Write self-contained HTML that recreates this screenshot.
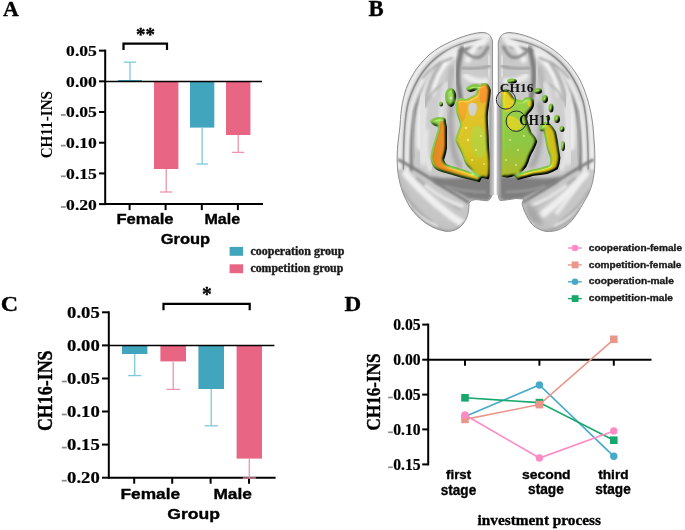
<!DOCTYPE html>
<html><head><meta charset="utf-8"><title>Figure</title>
<style>html,body{margin:0;padding:0;background:#fff;}body{width:685px;height:530px;overflow:hidden;font-family:"Liberation Sans",sans-serif;}svg{display:block;filter:blur(0.35px);}</style>
</head><body><svg width="685" height="530" viewBox="0 0 685 530"><g id="brain"><defs><filter id="gb0_6" x="-30%" y="-30%" width="160%" height="160%"><feGaussianBlur stdDeviation="0.6"/></filter><filter id="gb0_7" x="-30%" y="-30%" width="160%" height="160%"><feGaussianBlur stdDeviation="0.7"/></filter><filter id="gb0_9" x="-30%" y="-30%" width="160%" height="160%"><feGaussianBlur stdDeviation="0.9"/></filter><filter id="gb1_0" x="-30%" y="-30%" width="160%" height="160%"><feGaussianBlur stdDeviation="1.0"/></filter><filter id="gb1_2" x="-30%" y="-30%" width="160%" height="160%"><feGaussianBlur stdDeviation="1.2"/></filter><filter id="gb1_3" x="-30%" y="-30%" width="160%" height="160%"><feGaussianBlur stdDeviation="1.3"/></filter><filter id="gb1_4" x="-30%" y="-30%" width="160%" height="160%"><feGaussianBlur stdDeviation="1.4"/></filter><filter id="gb1_5" x="-30%" y="-30%" width="160%" height="160%"><feGaussianBlur stdDeviation="1.5"/></filter><filter id="gb1_6" x="-30%" y="-30%" width="160%" height="160%"><feGaussianBlur stdDeviation="1.6"/></filter><filter id="gb2_0" x="-30%" y="-30%" width="160%" height="160%"><feGaussianBlur stdDeviation="2.0"/></filter><filter id="puff" x="-10%" y="-10%" width="120%" height="120%" color-interpolation-filters="sRGB"><feGaussianBlur in="SourceAlpha" stdDeviation="1.8" result="b"/><feDiffuseLighting in="b" surfaceScale="3" diffuseConstant="1.3" lighting-color="#ffffff" result="diff"><feDistantLight azimuth="225" elevation="50"/></feDiffuseLighting><feComposite in="SourceGraphic" in2="diff" operator="arithmetic" k1="1" k2="0" k3="0" k4="0" result="lit"/><feSpecularLighting in="b" surfaceScale="3" specularConstant="0.3" specularExponent="28" lighting-color="#ffffff" result="spec"><fePointLight x="440" y="20" z="160"/></feSpecularLighting><feComposite in="spec" in2="SourceAlpha" operator="in" result="specIn"/><feComposite in="lit" in2="specIn" operator="arithmetic" k1="0" k2="1" k3="0.6" k4="0"/></filter><clipPath id="cL"><path d="M492.5,41 C491,35 488,32.5 482,32.4 C470,33 455,39 440,47 C425,56 414,70 408,84 C403,96 401,108 400,126 L397.6,146 C397,156 397,162 397.5,168 C398.5,182 403,196 410,207 C418,219 430,228 444,231 C452,232.5 460,229 464,222.6 C468,217 469,210 469,203 C472,199 476,199.5 480,200 L487,200.8 C490,200 492,197 492.6,192 Z"/></clipPath><clipPath id="cR"><path d="M498.3,42 C500,35 504,32.5 510,32.5 C522,33.5 536,38.5 550,47.5 C563,56 574,68 581,82 C587,95 591,110 593,126 L594.5,146 C595,156 595,162 594.5,170 C593.5,182 590,193 584.5,201 C580,209 574,220 566,226 C560,230 554,231.5 548.5,231.5 C542,231.5 536,228 532.4,224.7 C528,219 524,212 522.5,205 C522,204 522,202 524,199 L516,198.5 L506,200 L500,200.5 C498.6,199 498.3,196 498.3,192 Z"/></clipPath><radialGradient id="shL" cx="0.55" cy="0.35" r="0.75"><stop offset="0" stop-color="#d0d0d0"/><stop offset="0.8" stop-color="#c6c6c6"/><stop offset="1" stop-color="#b0b0b0"/></radialGradient></defs><path d="M492.5,41 C491,35 488,32.5 482,32.4 C470,33 455,39 440,47 C425,56 414,70 408,84 C403,96 401,108 400,126 L397.6,146 C397,156 397,162 397.5,168 C398.5,182 403,196 410,207 C418,219 430,228 444,231 C452,232.5 460,229 464,222.6 C468,217 469,210 469,203 C472,199 476,199.5 480,200 L487,200.8 C490,200 492,197 492.6,192 Z" fill="url(#shL)"/><path d="M498.3,42 C500,35 504,32.5 510,32.5 C522,33.5 536,38.5 550,47.5 C563,56 574,68 581,82 C587,95 591,110 593,126 L594.5,146 C595,156 595,162 594.5,170 C593.5,182 590,193 584.5,201 C580,209 574,220 566,226 C560,230 554,231.5 548.5,231.5 C542,231.5 536,228 532.4,224.7 C528,219 524,212 522.5,205 C522,204 522,202 524,199 L516,198.5 L506,200 L500,200.5 C498.6,199 498.3,196 498.3,192 Z" fill="url(#shL)"/><g clip-path="url(#cL)"><path d="M489,35.5 C475,34.5 455,40 440,49 C424,59 412,77 405,99 C401,115 399.5,140 399.5,168" stroke="#f0f0f0" stroke-width="4" fill="none" stroke-linecap="round" filter="url(#gb1_0)"/><path d="M487,39.5 C473,39 455,44.5 442,53.5 C427,63.5 415,80.5 408.5,101.5 C404.5,117.5 403.5,142 403.5,169" stroke="#8e8e8e" stroke-width="1.6" fill="none" stroke-linecap="round" filter="url(#gb0_7)"/><path d="M484,43 C471,43 455,48.5 444,56.5 C430,66.5 419,83.5 412,104.5 C408,120.5 407,145 407,170" stroke="#e9e9e9" stroke-width="4" fill="none" stroke-linecap="round" filter="url(#gb1_0)"/><path d="M480,47 C468,47 455,52 446,59.5 C433,69.5 423,86.5 416,107.5 C412,123.5 411,147 411.5,170" stroke="#767676" stroke-width="2.4" fill="none" stroke-linecap="round" filter="url(#gb0_9)"/><path d="M455,53 C443,61 433,73 427,89 C422,103 420,121 421,146" stroke="#ececec" stroke-width="9" fill="none" stroke-linecap="round" filter="url(#gb1_6)"/><path d="M446,62 C439,70 435,80 433,94" stroke="#f6f6f6" stroke-width="4" fill="none" stroke-linecap="round" filter="url(#gb1_4)"/><path d="M423,78 C430,68 440,62 452,58" stroke="#a6a6a6" stroke-width="2" fill="none" stroke-linecap="round" filter="url(#gb1_0)"/><path d="M428,100 C432,92 438,86 446,82" stroke="#b4b4b4" stroke-width="2" fill="none" stroke-linecap="round" filter="url(#gb1_0)"/><path d="M440,64 C432,76 427,90 425,106" stroke="#acacac" stroke-width="4" fill="none" stroke-linecap="round" filter="url(#gb1_6)"/><path d="M452,68 C450,80 448,90 447,100" stroke="#b2b2b2" stroke-width="5" fill="none" stroke-linecap="round" filter="url(#gb2_0)"/><path d="M462,48 C459,58 457,70 458,82 C459,90 460,96 461,102" stroke="#747474" stroke-width="4.5" fill="none" stroke-linecap="round" filter="url(#gb1_5)"/><path d="M452,104 C450,114 450,126 452,140 C453,150 455,160 460,166" stroke="#a0a0a0" stroke-width="5" fill="none" stroke-linecap="round" filter="url(#gb2_0)"/><path d="M486,39 C478,43 471,50 468,60" stroke="#f0f0f0" stroke-width="6" fill="none" stroke-linecap="round" filter="url(#gb1_4)"/><path d="M466,76 C471,80 478,82 486,81" stroke="#ececec" stroke-width="6" fill="none" stroke-linecap="round" filter="url(#gb1_4)"/><path d="M489,56 C490,64 490,70 489,76" stroke="#e6e6e6" stroke-width="3" fill="none" stroke-linecap="round" filter="url(#gb1_0)"/><path d="M463,50 C468,55 474,59 480,57 C484,55 486,51 488,47" stroke="#8a8a8a" stroke-width="3" fill="none" stroke-linecap="round" filter="url(#gb1_2)"/><path d="M462,68 C470,69 480,69 490,66" stroke="#9c9c9c" stroke-width="2.5" fill="none" stroke-linecap="round" filter="url(#gb1_2)"/><path d="M446,84 C444,96 442,108 440,118" stroke="#dedede" stroke-width="6" fill="none" stroke-linecap="round" filter="url(#gb1_5)"/><path d="M423,100 C421,120 421,140 424,160" stroke="#e2e2e2" stroke-width="12" fill="none" stroke-linecap="round" filter="url(#gb2_0)"/><path d="M414,110 C412,126 412,142 414,158" stroke="#adadad" stroke-width="2" fill="none" stroke-linecap="round" filter="url(#gb0_9)"/><path d="M426,132 C424,146 425,158 430,168" stroke="#e4e4e4" stroke-width="6" fill="none" stroke-linecap="round" filter="url(#gb1_5)"/><path d="M399,160 C414,168 430,178 445,188 C455,194 462,198 468,202" stroke="#7e7e7e" stroke-width="3" fill="none" stroke-linecap="round" filter="url(#gb1_2)"/><path d="M406,174 C418,188 432,201 446,212 C453,218 458,221 462,223" stroke="#f0f0f0" stroke-width="7" fill="none" stroke-linecap="round" filter="url(#gb1_6)"/><path d="M402,190 C410,204 420,214 432,222" stroke="#a6a6a6" stroke-width="2" fill="none" stroke-linecap="round" filter="url(#gb1_0)"/><path d="M417,178 C430,190 444,200 460,209" stroke="#a8a8a8" stroke-width="2" fill="none" stroke-linecap="round" filter="url(#gb1_0)"/><path d="M404,200 C412,212 422,220 436,226" stroke="#dedede" stroke-width="4" fill="none" stroke-linecap="round" filter="url(#gb1_3)"/><path d="M411,208 C419,220 431,228 445,231 C453,232.5 460,229 464,222.6" stroke="#9c9c9c" stroke-width="2" fill="none" stroke-linecap="round" filter="url(#gb1_0)"/><path d="M426,186 C436,194 448,202 462,206" stroke="#e4e4e4" stroke-width="4" fill="none" stroke-linecap="round" filter="url(#gb1_3)"/><path d="M430,176 C445,180 465,178 492,176 L492.6,192 C492,197 490,200 487,200.8 L480,200 C476,199.5 472,199 469,199 C460,194 448,188 436,184 Z" fill="#7e7e7e" filter="url(#gb1_5)"/><path d="M446,186 C458,190 470,192 486,192" stroke="#9a9a9a" stroke-width="2" fill="none" filter="url(#gb1_0)"/></g><g clip-path="url(#cR)"><g transform="translate(991.6,0) scale(-1,1)"><path d="M489,35.5 C475,34.5 455,40 440,49 C424,59 412,77 405,99 C401,115 399.5,140 399.5,168" stroke="#f0f0f0" stroke-width="4" fill="none" stroke-linecap="round" filter="url(#gb1_0)"/><path d="M487,39.5 C473,39 455,44.5 442,53.5 C427,63.5 415,80.5 408.5,101.5 C404.5,117.5 403.5,142 403.5,169" stroke="#8e8e8e" stroke-width="1.6" fill="none" stroke-linecap="round" filter="url(#gb0_7)"/><path d="M484,43 C471,43 455,48.5 444,56.5 C430,66.5 419,83.5 412,104.5 C408,120.5 407,145 407,170" stroke="#e9e9e9" stroke-width="4" fill="none" stroke-linecap="round" filter="url(#gb1_0)"/><path d="M480,47 C468,47 455,52 446,59.5 C433,69.5 423,86.5 416,107.5 C412,123.5 411,147 411.5,170" stroke="#767676" stroke-width="2.4" fill="none" stroke-linecap="round" filter="url(#gb0_9)"/><path d="M455,53 C443,61 433,73 427,89 C422,103 420,121 421,146" stroke="#ececec" stroke-width="9" fill="none" stroke-linecap="round" filter="url(#gb1_6)"/><path d="M446,62 C439,70 435,80 433,94" stroke="#f6f6f6" stroke-width="4" fill="none" stroke-linecap="round" filter="url(#gb1_4)"/><path d="M423,78 C430,68 440,62 452,58" stroke="#a6a6a6" stroke-width="2" fill="none" stroke-linecap="round" filter="url(#gb1_0)"/><path d="M428,100 C432,92 438,86 446,82" stroke="#b4b4b4" stroke-width="2" fill="none" stroke-linecap="round" filter="url(#gb1_0)"/><path d="M440,64 C432,76 427,90 425,106" stroke="#acacac" stroke-width="4" fill="none" stroke-linecap="round" filter="url(#gb1_6)"/><path d="M452,68 C450,80 448,90 447,100" stroke="#b2b2b2" stroke-width="5" fill="none" stroke-linecap="round" filter="url(#gb2_0)"/><path d="M462,48 C459,58 457,70 458,82 C459,90 460,96 461,102" stroke="#747474" stroke-width="4.5" fill="none" stroke-linecap="round" filter="url(#gb1_5)"/><path d="M452,104 C450,114 450,126 452,140 C453,150 455,160 460,166" stroke="#a0a0a0" stroke-width="5" fill="none" stroke-linecap="round" filter="url(#gb2_0)"/><path d="M486,39 C478,43 471,50 468,60" stroke="#f0f0f0" stroke-width="6" fill="none" stroke-linecap="round" filter="url(#gb1_4)"/><path d="M466,76 C471,80 478,82 486,81" stroke="#ececec" stroke-width="6" fill="none" stroke-linecap="round" filter="url(#gb1_4)"/><path d="M489,56 C490,64 490,70 489,76" stroke="#e6e6e6" stroke-width="3" fill="none" stroke-linecap="round" filter="url(#gb1_0)"/><path d="M463,50 C468,55 474,59 480,57 C484,55 486,51 488,47" stroke="#8a8a8a" stroke-width="3" fill="none" stroke-linecap="round" filter="url(#gb1_2)"/><path d="M462,68 C470,69 480,69 490,66" stroke="#9c9c9c" stroke-width="2.5" fill="none" stroke-linecap="round" filter="url(#gb1_2)"/><path d="M446,84 C444,96 442,108 440,118" stroke="#dedede" stroke-width="6" fill="none" stroke-linecap="round" filter="url(#gb1_5)"/><path d="M423,100 C421,120 421,140 424,160" stroke="#e2e2e2" stroke-width="12" fill="none" stroke-linecap="round" filter="url(#gb2_0)"/><path d="M414,110 C412,126 412,142 414,158" stroke="#adadad" stroke-width="2" fill="none" stroke-linecap="round" filter="url(#gb0_9)"/><path d="M426,132 C424,146 425,158 430,168" stroke="#e4e4e4" stroke-width="6" fill="none" stroke-linecap="round" filter="url(#gb1_5)"/><path d="M399,160 C414,168 430,178 445,188 C455,194 462,198 468,202" stroke="#7e7e7e" stroke-width="3" fill="none" stroke-linecap="round" filter="url(#gb1_2)"/><path d="M406,174 C418,188 432,201 446,212 C453,218 458,221 462,223" stroke="#f0f0f0" stroke-width="7" fill="none" stroke-linecap="round" filter="url(#gb1_6)"/><path d="M402,190 C410,204 420,214 432,222" stroke="#a6a6a6" stroke-width="2" fill="none" stroke-linecap="round" filter="url(#gb1_0)"/><path d="M417,178 C430,190 444,200 460,209" stroke="#a8a8a8" stroke-width="2" fill="none" stroke-linecap="round" filter="url(#gb1_0)"/><path d="M404,200 C412,212 422,220 436,226" stroke="#dedede" stroke-width="4" fill="none" stroke-linecap="round" filter="url(#gb1_3)"/><path d="M411,208 C419,220 431,228 445,231 C453,232.5 460,229 464,222.6" stroke="#9c9c9c" stroke-width="2" fill="none" stroke-linecap="round" filter="url(#gb1_0)"/><path d="M426,186 C436,194 448,202 462,206" stroke="#e4e4e4" stroke-width="4" fill="none" stroke-linecap="round" filter="url(#gb1_3)"/><path d="M430,176 C445,180 465,178 492,176 L492.6,192 C492,197 490,200 487,200.8 L480,200 C476,199.5 472,199 469,199 C460,194 448,188 436,184 Z" fill="#7e7e7e" filter="url(#gb1_5)"/><path d="M446,186 C458,190 470,192 486,192" stroke="#9a9a9a" stroke-width="2" fill="none" filter="url(#gb1_0)"/></g></g><g clip-path="url(#cR)"><path d="M526,200 C534,206 540,214 544,222 C540,226 534,226 530,222 C526,214 524,206 526,200 Z" fill="#a8a8a8" filter="url(#gb2_0)"/><path d="M578,184 C570,196 562,206 556,214" stroke="#eeeeee" stroke-width="4" fill="none" filter="url(#gb1_5)"/></g><path d="M492.5,41 C491,35 488,32.5 482,32.4 C470,33 455,39 440,47 C425,56 414,70 408,84 C403,96 401,108 400,126 L397.6,146 C397,156 397,162 397.5,168 C398.5,182 403,196 410,207 C418,219 430,228 444,231 C452,232.5 460,229 464,222.6 C468,217 469,210 469,203 C472,199 476,199.5 480,200 L487,200.8 C490,200 492,197 492.6,192 Z" fill="none" stroke="#909090" stroke-width="1"/><path d="M498.3,42 C500,35 504,32.5 510,32.5 C522,33.5 536,38.5 550,47.5 C563,56 574,68 581,82 C587,95 591,110 593,126 L594.5,146 C595,156 595,162 594.5,170 C593.5,182 590,193 584.5,201 C580,209 574,220 566,226 C560,230 554,231.5 548.5,231.5 C542,231.5 536,228 532.4,224.7 C528,219 524,212 522.5,205 C522,204 522,202 524,199 L516,198.5 L506,200 L500,200.5 C498.6,199 498.3,196 498.3,192 Z" fill="none" stroke="#909090" stroke-width="1"/><defs><linearGradient id="gOr" x1="0" y1="0" x2="1" y2="0.3"><stop offset="0" stop-color="#d8741a"/><stop offset="0.35" stop-color="#de8a1c"/><stop offset="0.7" stop-color="#e2a220"/><stop offset="1" stop-color="#dcbc20"/></linearGradient>
<linearGradient id="gYel" x1="0" y1="0" x2="0" y2="1"><stop offset="0" stop-color="#da8e1a"/><stop offset="0.3" stop-color="#d6b41a"/><stop offset="0.7" stop-color="#ccc01a"/><stop offset="1" stop-color="#c4b018"/></linearGradient>
<linearGradient id="gGr" x1="0" y1="0" x2="0" y2="1"><stop offset="0" stop-color="#90c83e"/><stop offset="0.6" stop-color="#88c23e"/><stop offset="1" stop-color="#acb826"/></linearGradient></defs><g filter="url(#puff)">
<g filter="url(#gb0_6)">
 <!-- green scattered patches -->
 <g fill="#84c444">
  <path d="M447,90 C450,86 455,88 456,94 C457,100 455,106 451,107 C447,106 445,101 445,96 C445,93 446,91 447,90 Z"/>
  <path d="M430,121 C433,117 440,116 445,118 C447,121 446,126 442,127 C437,127 432,126 430,121 Z"/>
  <path d="M466,88 C470,84 476,83 480,85 C480,89 476,91 471,92 C468,92 466,90 466,88 Z"/>
  <ellipse cx="512" cy="81" rx="5" ry="2.5"/>
  <ellipse cx="538" cy="91" rx="4" ry="3"/>
  <ellipse cx="545" cy="99" rx="3" ry="4"/>
  <ellipse cx="551" cy="108" rx="2.5" ry="4.5"/>
  <ellipse cx="557" cy="119" rx="3" ry="4"/>
  <ellipse cx="562" cy="129" rx="2.5" ry="3"/>
  <ellipse cx="528" cy="100" rx="4.5" ry="3"/>
  <ellipse cx="548" cy="118" rx="2" ry="3"/>
  <ellipse cx="542" cy="128" rx="2.5" ry="3.5"/>
  <ellipse cx="563" cy="146" rx="2" ry="5"/>
  <ellipse cx="441" cy="104" rx="2" ry="2.5"/>
 </g>
 <g fill="#c4c4c4">
  <ellipse cx="451" cy="98" rx="1.3" ry="1.6"/>
 </g>
 <!-- left outer strip -->
 <path d="M440,119 C443,119 446,122 446,127 L446,148 C445.5,153 444,157 443,160 C444,163 446,165 447.6,165.8 C452,167.5 458,169 462.7,170.3 C467,171.5 471,173 474.8,174.9 L481,177.5 L479,181 C470,179 462,177 455,174.9 C450,173 444,172 440,170.3 C436,169 433,166 432,161 C431,158 431.5,155 431.8,153.7 C433,149 434,145 435,142 C436.5,137 437.8,133 438.6,130 C439,126 439,122 440,119 Z" fill="url(#gOr)" stroke="#84cc48" stroke-width="2"/>
 <!-- left inner blob -->
 <path d="M482,84 C486,83 489,85 490,90 C490,100 487,108 487,117 C487,125 488,132 488,140 C488,150 490,158 490,165 C490,172 490,177 488,178.5 C482,178 476,175 470,168 C467,165 465,163 464,158 C462,152 458,146 456,140 C457,134 460,129 461,125 C460,120 458,116 457,112 C456,107 456,103 458,100 C461,98 464,99 466,100 C470,98 474,96 476,95 C477,92 479,87 482,84 Z" fill="url(#gYel)" stroke="#8acc48" stroke-width="1.6"/>
 <path d="M481,86 C486,85 488,89 488,95 C487,101 484,104 481,103 C479,98 479,91 481,86 Z" fill="#e4861c"/>
 <path d="M459,103 C462,101 465,102 467,104 C467,110 466,118 463,122 C460,117 458,110 459,103 Z" fill="#e39a1e"/>
 <path d="M474,126 C481,124 486,132 487,142 C487,152 484,158 478,158 C472,152 470,144 471,134 Z" fill="#b4c832"/>
 <path d="M468.5,105 C471,102 475,102 476.5,105 C477.5,109 476,114 473,116.5 C470,116 468.5,112 468.5,109 Z" fill="#c2c2c2"/>
 <!-- right inner blob -->
 <path d="M502,91 C505,88 510,92 514,99 C518,101 524,101 528,100 L533,100 C534,105 533,108 531,110 C528,113 526,115 526,117 C527,122 529,128 531,133 C534,136 536,139 536.5,141.5 C535.5,145 534,148 533,150 C531,153 530,155 529,158 C528,162 527,164 526,166 C524,169 522,171 520,173 C516,175 512,176.5 507.5,177 L501.5,176 C501,165 501,150 501,135 C501,120 501,105 502,91 Z" fill="url(#gGr)" stroke="#8ccf4a" stroke-width="1.4"/>
 <path d="M502,92 C506,89 511,93 513,100 C514,107 511,111 506,112 C503,107 502,99 502,92 Z" fill="#d6c41a"/>
 <path d="M507,116 C513,115 520,119 522,126 C520,131 513,132 508,129 Z" fill="#cccc20"/>
 <path d="M527,101 C530,100 533,102 532,106 C530,108 527,107 527,101 Z" fill="#cfc81e"/>
 <!-- right outer strip -->
 <path d="M543.8,122.8 C547,122 552,126 555,132 C557,140 558,148 559.4,158 C559,163 558,166 557,168.5 C553,171 549,172.5 547,173 C541,174 536,174.5 532.4,175 C527,176.5 522,178 518,179 L516,176.5 C520,174 526,172 532,170.5 C538,169.5 544,168 550,166 C552,162 551,156 549,152 C547,146 546,140 545,134 C544,130 543.5,126 543.8,122.8 Z" fill="#ccbc18" stroke="#84c444" stroke-width="2"/>
</g>
<g fill="#f4f0a0" opacity="0.7" filter="url(#gb0_6)">
 <circle cx="468" cy="140" r="1.2"/><circle cx="476" cy="150" r="1"/><circle cx="481" cy="136" r="1"/><circle cx="472" cy="160" r="1"/>
 <circle cx="466" cy="128" r="1.2"/><circle cx="484" cy="164" r="1"/>
 <circle cx="510" cy="140" r="1.1"/><circle cx="518" cy="150" r="1"/><circle cx="524" cy="136" r="1"/><circle cx="506" cy="160" r="1"/><circle cx="516" cy="165" r="1"/>
</g>
</g><defs><linearGradient id="gMed" x1="0" y1="0" x2="1" y2="0"><stop offset="0" stop-color="#9a9a9a"/><stop offset="0.35" stop-color="#d0d0d0"/><stop offset="0.45" stop-color="#ffffff"/><stop offset="0.55" stop-color="#ffffff"/><stop offset="0.65" stop-color="#bdbdbd"/><stop offset="1" stop-color="#8a8a8a"/></linearGradient><linearGradient id="gMedV" x1="0" y1="0" x2="0" y2="1"><stop offset="0" stop-color="#fff" stop-opacity="1"/><stop offset="0.25" stop-color="#fff" stop-opacity="0"/><stop offset="1" stop-color="#fff" stop-opacity="0"/></linearGradient></defs><defs><mask id="mMed"><rect x="480" y="0" width="40" height="240" fill="url(#gMedM)"/></mask><linearGradient id="gMedM" gradientUnits="userSpaceOnUse" x1="0" y1="92" x2="0" y2="108"><stop offset="0" stop-color="#000"/><stop offset="1" stop-color="#fff"/></linearGradient></defs><g mask="url(#mMed)"><path d="M489.5,92 L501.5,92 L501.5,195 L489.5,195 Z" fill="url(#gMed)" filter="url(#gb0_6)"/></g><line x1="495.3" y1="40" x2="495.3" y2="200" stroke="#ffffff" stroke-width="1.4"/><circle cx="505.9" cy="99.6" r="9.6" fill="none" stroke="#2a2a2a" stroke-width="1"/><circle cx="516.3" cy="121.2" r="10.2" fill="none" stroke="#2a2a2a" stroke-width="1"/></g><line x1="105.2" y1="49.65" x2="105.2" y2="205.1" stroke="#000" stroke-width="2.0" stroke-linecap="butt"/><line x1="99" y1="50.65" x2="105.2" y2="50.65" stroke="#000" stroke-width="2.0" stroke-linecap="butt"/><line x1="99" y1="81.34" x2="105.2" y2="81.34" stroke="#000" stroke-width="2.0" stroke-linecap="butt"/><line x1="99" y1="112.03" x2="105.2" y2="112.03" stroke="#000" stroke-width="2.0" stroke-linecap="butt"/><line x1="99" y1="142.72" x2="105.2" y2="142.72" stroke="#000" stroke-width="2.0" stroke-linecap="butt"/><line x1="99" y1="173.41" x2="105.2" y2="173.41" stroke="#000" stroke-width="2.0" stroke-linecap="butt"/><line x1="99" y1="204.1" x2="105.2" y2="204.1" stroke="#000" stroke-width="2.0" stroke-linecap="butt"/><line x1="105.2" y1="204.1" x2="263" y2="204.1" stroke="#000" stroke-width="2.0" stroke-linecap="butt"/><line x1="129.6" y1="204.1" x2="129.6" y2="210.1" stroke="#000" stroke-width="2.0" stroke-linecap="butt"/><line x1="165.6" y1="204.1" x2="165.6" y2="210.1" stroke="#000" stroke-width="2.0" stroke-linecap="butt"/><line x1="201.8" y1="204.1" x2="201.8" y2="210.1" stroke="#000" stroke-width="2.0" stroke-linecap="butt"/><line x1="237.9" y1="204.1" x2="237.9" y2="210.1" stroke="#000" stroke-width="2.0" stroke-linecap="butt"/><rect x="118.00" y="80.00" width="24.00" height="1.60" fill="#42A5BE"/><line x1="130.0" y1="80.0" x2="130.0" y2="62.2" stroke="#7DC8DC" stroke-width="1.3" stroke-linecap="butt"/><line x1="124.0" y1="62.2" x2="136.0" y2="62.2" stroke="#7DC8DC" stroke-width="1.3" stroke-linecap="butt"/><rect x="154.00" y="81.60" width="24.40" height="87.40" fill="#E96584"/><line x1="166.2" y1="169" x2="166.2" y2="192" stroke="#F094AA" stroke-width="1.3" stroke-linecap="butt"/><line x1="160.0" y1="192" x2="172.39999999999998" y2="192" stroke="#F094AA" stroke-width="1.3" stroke-linecap="butt"/><rect x="190.00" y="81.60" width="24.30" height="46.00" fill="#42A5BE"/><line x1="202.15" y1="127.6" x2="202.15" y2="164" stroke="#7DC8DC" stroke-width="1.3" stroke-linecap="butt"/><line x1="196.35" y1="164" x2="207.95000000000002" y2="164" stroke="#7DC8DC" stroke-width="1.3" stroke-linecap="butt"/><rect x="226.00" y="81.60" width="24.40" height="53.40" fill="#E96584"/><line x1="238.2" y1="135" x2="238.2" y2="152.4" stroke="#F094AA" stroke-width="1.3" stroke-linecap="butt"/><line x1="232.2" y1="152.4" x2="244.2" y2="152.4" stroke="#F094AA" stroke-width="1.3" stroke-linecap="butt"/><line x1="105.2" y1="81.6" x2="262" y2="81.6" stroke="#000" stroke-width="1.5" stroke-linecap="butt"/><path d="M123.5,49.9 L123.5,43.7 L167,43.7 L167,49.9" stroke="#000" stroke-width="2.2" fill="none" /><rect x="60.90" y="114.08" width="4.90" height="1.70" fill="#8a8a8a"/><rect x="60.90" y="144.77" width="4.90" height="1.70" fill="#8a8a8a"/><rect x="60.90" y="175.46" width="4.90" height="1.70" fill="#8a8a8a"/><rect x="60.90" y="206.15" width="4.90" height="1.70" fill="#8a8a8a"/><rect x="229.60" y="246.90" width="13.50" height="8.90" fill="#42A5BE"/><rect x="229.60" y="264.30" width="13.50" height="8.90" fill="#E96584"/><line x1="108.8" y1="311.3" x2="108.8" y2="478.7" stroke="#000" stroke-width="2.0" stroke-linecap="butt"/><line x1="102" y1="312.3" x2="108.8" y2="312.3" stroke="#000" stroke-width="2.0" stroke-linecap="butt"/><line x1="102" y1="345.4" x2="108.8" y2="345.4" stroke="#000" stroke-width="2.0" stroke-linecap="butt"/><line x1="102" y1="378.5" x2="108.8" y2="378.5" stroke="#000" stroke-width="2.0" stroke-linecap="butt"/><line x1="102" y1="411.5" x2="108.8" y2="411.5" stroke="#000" stroke-width="2.0" stroke-linecap="butt"/><line x1="102" y1="444.6" x2="108.8" y2="444.6" stroke="#000" stroke-width="2.0" stroke-linecap="butt"/><line x1="102" y1="477.7" x2="108.8" y2="477.7" stroke="#000" stroke-width="2.0" stroke-linecap="butt"/><line x1="108.8" y1="477.7" x2="275.6" y2="477.7" stroke="#000" stroke-width="2.0" stroke-linecap="butt"/><line x1="134.2" y1="477.7" x2="134.2" y2="483.7" stroke="#000" stroke-width="2.0" stroke-linecap="butt"/><line x1="172.2" y1="477.7" x2="172.2" y2="483.7" stroke="#000" stroke-width="2.0" stroke-linecap="butt"/><line x1="210.6" y1="477.7" x2="210.6" y2="483.7" stroke="#000" stroke-width="2.0" stroke-linecap="butt"/><line x1="249.0" y1="477.7" x2="249.0" y2="483.7" stroke="#000" stroke-width="2.0" stroke-linecap="butt"/><rect x="122.00" y="345.40" width="25.40" height="8.60" fill="#42A5BE"/><line x1="134.7" y1="354" x2="134.7" y2="375.6" stroke="#7DC8DC" stroke-width="1.3" stroke-linecap="butt"/><line x1="128.2" y1="375.6" x2="141.2" y2="375.6" stroke="#7DC8DC" stroke-width="1.3" stroke-linecap="butt"/><rect x="160.40" y="345.40" width="25.60" height="16.00" fill="#E96584"/><line x1="173.2" y1="361.4" x2="173.2" y2="389.4" stroke="#F094AA" stroke-width="1.3" stroke-linecap="butt"/><line x1="166.39999999999998" y1="389.4" x2="180.0" y2="389.4" stroke="#F094AA" stroke-width="1.3" stroke-linecap="butt"/><rect x="198.40" y="345.40" width="25.60" height="43.60" fill="#42A5BE"/><line x1="211.2" y1="389" x2="211.2" y2="425.8" stroke="#7DC8DC" stroke-width="1.3" stroke-linecap="butt"/><line x1="204.6" y1="425.8" x2="217.79999999999998" y2="425.8" stroke="#7DC8DC" stroke-width="1.3" stroke-linecap="butt"/><rect x="236.60" y="345.40" width="25.40" height="113.20" fill="#E96584"/><line x1="249.3" y1="458.6" x2="249.3" y2="478" stroke="#F094AA" stroke-width="1.3" stroke-linecap="butt"/><line x1="242.8" y1="478" x2="255.8" y2="478" stroke="#F094AA" stroke-width="1.3" stroke-linecap="butt"/><line x1="108.8" y1="345.4" x2="274.4" y2="345.4" stroke="#000" stroke-width="1.5" stroke-linecap="butt"/><path d="M163.5,310.3 L163.5,303.8 L249.7,303.8 L249.7,310.3" stroke="#000" stroke-width="2.2" fill="none" /><rect x="61.80" y="380.65" width="5.00" height="1.70" fill="#8a8a8a"/><rect x="61.80" y="413.65" width="5.00" height="1.70" fill="#8a8a8a"/><rect x="61.80" y="446.75" width="5.00" height="1.70" fill="#8a8a8a"/><rect x="61.80" y="479.85" width="5.00" height="1.70" fill="#8a8a8a"/><line x1="428.2" y1="323.6" x2="428.2" y2="465.4" stroke="#000" stroke-width="2.0" stroke-linecap="butt"/><line x1="422.2" y1="324.6" x2="428.2" y2="324.6" stroke="#000" stroke-width="2.0" stroke-linecap="butt"/><line x1="422.2" y1="359.7" x2="428.2" y2="359.7" stroke="#000" stroke-width="2.0" stroke-linecap="butt"/><line x1="422.2" y1="394.6" x2="428.2" y2="394.6" stroke="#000" stroke-width="2.0" stroke-linecap="butt"/><line x1="422.2" y1="429.4" x2="428.2" y2="429.4" stroke="#000" stroke-width="2.0" stroke-linecap="butt"/><line x1="422.2" y1="464.4" x2="428.2" y2="464.4" stroke="#000" stroke-width="2.0" stroke-linecap="butt"/><line x1="428.2" y1="359.7" x2="651.5" y2="359.7" stroke="#000" stroke-width="2.0" stroke-linecap="butt"/><line x1="465.0" y1="359.7" x2="465.0" y2="365.7" stroke="#000" stroke-width="2.0" stroke-linecap="butt"/><line x1="539.4" y1="359.7" x2="539.4" y2="365.7" stroke="#000" stroke-width="2.0" stroke-linecap="butt"/><line x1="613.8" y1="359.7" x2="613.8" y2="365.7" stroke="#000" stroke-width="2.0" stroke-linecap="butt"/><rect x="388.20" y="396.65" width="4.60" height="1.70" fill="#8a8a8a"/><rect x="388.20" y="431.45" width="4.60" height="1.70" fill="#8a8a8a"/><rect x="388.20" y="466.45" width="4.60" height="1.70" fill="#8a8a8a"/><polyline points="465.0,416.5 539.4,385.0 613.8,456.3" fill="none" stroke="#46A9C8" stroke-width="1.6"/><polyline points="465.0,397.8 539.4,402.6 613.8,440.2" fill="none" stroke="#17A86B" stroke-width="1.6"/><polyline points="465.0,419.4 539.4,404.6 613.8,339.3" fill="none" stroke="#E8978A" stroke-width="1.6"/><polyline points="465.0,415.0 539.4,458.0 613.8,430.9" fill="none" stroke="#FF8AC6" stroke-width="1.6"/><circle cx="465.0" cy="416.5" r="3.7" fill="#46A9C8"/><circle cx="539.4" cy="385.0" r="3.7" fill="#46A9C8"/><circle cx="613.8" cy="456.3" r="3.7" fill="#46A9C8"/><rect x="461.20" y="394.00" width="7.60" height="7.60" fill="#17A86B"/><rect x="535.60" y="398.80" width="7.60" height="7.60" fill="#17A86B"/><rect x="610.00" y="436.40" width="7.60" height="7.60" fill="#17A86B"/><rect x="461.20" y="415.60" width="7.60" height="7.60" fill="#E8978A"/><rect x="535.60" y="400.80" width="7.60" height="7.60" fill="#E8978A"/><rect x="610.00" y="335.50" width="7.60" height="7.60" fill="#E8978A"/><circle cx="465.0" cy="415.0" r="3.7" fill="#FF8AC6"/><circle cx="539.4" cy="458.0" r="3.7" fill="#FF8AC6"/><circle cx="613.8" cy="430.9" r="3.7" fill="#FF8AC6"/><line x1="567.9" y1="248.0" x2="581.8" y2="248.0" stroke="#FF8AC6" stroke-width="1.4" stroke-linecap="butt"/><circle cx="575" cy="248.0" r="3.3" fill="#FF8AC6"/><line x1="567.9" y1="264.9" x2="581.8" y2="264.9" stroke="#E8978A" stroke-width="1.4" stroke-linecap="butt"/><rect x="571.70" y="261.50" width="6.80" height="6.80" fill="#E8978A"/><line x1="567.9" y1="281.8" x2="581.8" y2="281.8" stroke="#46A9C8" stroke-width="1.4" stroke-linecap="butt"/><circle cx="575" cy="281.8" r="3.3" fill="#46A9C8"/><line x1="567.9" y1="298.6" x2="581.8" y2="298.6" stroke="#17A86B" stroke-width="1.4" stroke-linecap="butt"/><rect x="571.70" y="295.20" width="6.80" height="6.80" fill="#17A86B"/><text transform="translate(2.98,15.90) scale(0.9949,1)" font-family="Liberation Serif" font-weight="bold" font-size="21.970" fill="#000" stroke="#000" stroke-width="0.35" stroke-linejoin="round">A</text><text transform="translate(368.45,16.10) scale(0.9921,1)" font-family="Liberation Serif" font-weight="bold" font-size="22.923" fill="#000" stroke="#000" stroke-width="0.35" stroke-linejoin="round">B</text><text transform="translate(0.80,310.79) scale(1.1314,1)" font-family="Liberation Serif" font-weight="bold" font-size="21.212" fill="#000" stroke="#000" stroke-width="0.35" stroke-linejoin="round">C</text><text transform="translate(344.54,311.40) scale(1.0870,1)" font-family="Liberation Serif" font-weight="bold" font-size="21.231" fill="#000" stroke="#000" stroke-width="0.35" stroke-linejoin="round">D</text><text transform="translate(136.04,41.47) scale(0.9856,1)" font-family="Liberation Serif" font-weight="bold" font-size="19.189" fill="#000" stroke="#000" stroke-width="0.35" stroke-linejoin="round">**</text><text transform="translate(66.10,56.10) scale(1.1564,1)" font-family="Liberation Serif" font-weight="bold" font-size="15.224" fill="#000" stroke="#000" stroke-width="0.2" stroke-linejoin="round">0.05</text><text transform="translate(66.10,86.79) scale(1.1564,1)" font-family="Liberation Serif" font-weight="bold" font-size="15.224" fill="#000" stroke="#000" stroke-width="0.2" stroke-linejoin="round">0.00</text><text transform="translate(66.10,117.48) scale(1.1564,1)" font-family="Liberation Serif" font-weight="bold" font-size="15.224" fill="#000" stroke="#000" stroke-width="0.2" stroke-linejoin="round">0.05</text><text transform="translate(66.10,148.17) scale(1.1737,1)" font-family="Liberation Serif" font-weight="bold" font-size="15.000" fill="#000" stroke="#000" stroke-width="0.2" stroke-linejoin="round">0.10</text><text transform="translate(66.10,178.86) scale(1.1737,1)" font-family="Liberation Serif" font-weight="bold" font-size="15.000" fill="#000" stroke="#000" stroke-width="0.2" stroke-linejoin="round">0.15</text><text transform="translate(66.10,209.55) scale(1.1564,1)" font-family="Liberation Serif" font-weight="bold" font-size="15.224" fill="#000" stroke="#000" stroke-width="0.2" stroke-linejoin="round">0.20</text><text transform="translate(51.86,158.36) rotate(-90) scale(1,1.1146)" font-family="Liberation Serif" font-weight="bold" font-size="15.172" fill="#000">CH11-INS</text><text transform="translate(116.44,224.26) scale(1.1471,1)" font-family="Liberation Sans" font-weight="bold" font-size="14.459" fill="#000" stroke="#000" stroke-width="0.35" stroke-linejoin="round">Female</text><text transform="translate(204.47,224.25) scale(1.0920,1)" font-family="Liberation Sans" font-weight="bold" font-size="14.730" fill="#000" stroke="#000" stroke-width="0.35" stroke-linejoin="round">Male</text><text transform="translate(160.64,243.75) scale(1.1380,1)" font-family="Liberation Sans" font-weight="bold" font-size="14.505" fill="#000" stroke="#000" stroke-width="0.35" stroke-linejoin="round">Group</text><text transform="translate(250.44,254.77) scale(1.0380,1)" font-family="Liberation Serif" font-weight="bold" font-size="11.556" fill="#1a1a1a" stroke="#1a1a1a" stroke-width="0.35" stroke-linejoin="round">cooperation group</text><text transform="translate(250.44,271.97) scale(1.0258,1)" font-family="Liberation Serif" font-weight="bold" font-size="11.556" fill="#1a1a1a" stroke="#1a1a1a" stroke-width="0.35" stroke-linejoin="round">competition group</text><text transform="translate(202.02,301.30) scale(0.9762,1)" font-family="Liberation Serif" font-weight="bold" font-size="20.000" fill="#000" stroke="#000" stroke-width="0.35" stroke-linejoin="round">*</text><text transform="translate(67.05,317.87) scale(1.1176,1)" font-family="Liberation Serif" font-weight="bold" font-size="16.716" fill="#000" stroke="#000" stroke-width="0.2" stroke-linejoin="round">0.05</text><text transform="translate(67.05,350.97) scale(1.1176,1)" font-family="Liberation Serif" font-weight="bold" font-size="16.716" fill="#000" stroke="#000" stroke-width="0.2" stroke-linejoin="round">0.00</text><text transform="translate(67.05,384.07) scale(1.1176,1)" font-family="Liberation Serif" font-weight="bold" font-size="16.716" fill="#000" stroke="#000" stroke-width="0.2" stroke-linejoin="round">0.05</text><text transform="translate(67.05,417.07) scale(1.1343,1)" font-family="Liberation Serif" font-weight="bold" font-size="16.471" fill="#000" stroke="#000" stroke-width="0.2" stroke-linejoin="round">0.10</text><text transform="translate(67.05,450.17) scale(1.1343,1)" font-family="Liberation Serif" font-weight="bold" font-size="16.471" fill="#000" stroke="#000" stroke-width="0.2" stroke-linejoin="round">0.15</text><text transform="translate(67.05,483.27) scale(1.1176,1)" font-family="Liberation Serif" font-weight="bold" font-size="16.716" fill="#000" stroke="#000" stroke-width="0.2" stroke-linejoin="round">0.20</text><text transform="translate(52.39,431.10) rotate(-90) scale(1,1.1560)" font-family="Liberation Serif" font-weight="bold" font-size="17.937" fill="#000" stroke="#000" stroke-width="0.35" stroke-linejoin="round">CH16-INS</text><text transform="translate(120.49,499.05) scale(1.1662,1)" font-family="Liberation Sans" font-weight="bold" font-size="14.865" fill="#000" stroke="#000" stroke-width="0.35" stroke-linejoin="round">Female</text><text transform="translate(213.39,499.05) scale(1.1646,1)" font-family="Liberation Sans" font-weight="bold" font-size="14.865" fill="#000" stroke="#000" stroke-width="0.35" stroke-linejoin="round">Male</text><text transform="translate(167.20,518.81) scale(1.1954,1)" font-family="Liberation Sans" font-weight="bold" font-size="14.725" fill="#000" stroke="#000" stroke-width="0.35" stroke-linejoin="round">Group</text><text transform="translate(393.17,330.18) scale(0.9824,1)" font-family="Liberation Serif" font-weight="bold" font-size="15.970" fill="#000" stroke="#000" stroke-width="0.2" stroke-linejoin="round">0.05</text><text transform="translate(393.17,365.28) scale(0.9824,1)" font-family="Liberation Serif" font-weight="bold" font-size="15.970" fill="#000" stroke="#000" stroke-width="0.2" stroke-linejoin="round">0.00</text><text transform="translate(393.17,400.18) scale(0.9824,1)" font-family="Liberation Serif" font-weight="bold" font-size="15.970" fill="#000" stroke="#000" stroke-width="0.2" stroke-linejoin="round">0.05</text><text transform="translate(393.17,434.99) scale(0.9970,1)" font-family="Liberation Serif" font-weight="bold" font-size="15.735" fill="#000" stroke="#000" stroke-width="0.2" stroke-linejoin="round">0.10</text><text transform="translate(393.17,469.99) scale(0.9970,1)" font-family="Liberation Serif" font-weight="bold" font-size="15.735" fill="#000" stroke="#000" stroke-width="0.2" stroke-linejoin="round">0.15</text><text transform="translate(380.14,430.46) rotate(-90) scale(1,1.0551)" font-family="Liberation Serif" font-weight="bold" font-size="17.143" fill="#000" stroke="#000" stroke-width="0.35" stroke-linejoin="round">CH16-INS</text><text transform="translate(446.03,479.07) scale(1.0236,1)" font-family="Liberation Sans" font-weight="bold" font-size="12.973" fill="#000" stroke="#000" stroke-width="0.35" stroke-linejoin="round">first</text><text transform="translate(440.76,494.55) scale(0.9055,1)" font-family="Liberation Sans" font-weight="bold" font-size="15.000" fill="#000" stroke="#000" stroke-width="0.35" stroke-linejoin="round">stage</text><text transform="translate(521.94,479.46) scale(1.0201,1)" font-family="Liberation Sans" font-weight="bold" font-size="13.649" fill="#000" stroke="#000" stroke-width="0.35" stroke-linejoin="round">second</text><text transform="translate(528.05,494.39) scale(0.9901,1)" font-family="Liberation Sans" font-weight="bold" font-size="13.837" fill="#000" stroke="#000" stroke-width="0.35" stroke-linejoin="round">stage</text><text transform="translate(598.26,479.27) scale(1.0409,1)" font-family="Liberation Sans" font-weight="bold" font-size="13.108" fill="#000" stroke="#000" stroke-width="0.35" stroke-linejoin="round">third</text><text transform="translate(595.16,494.25) scale(0.9682,1)" font-family="Liberation Sans" font-weight="bold" font-size="14.070" fill="#000" stroke="#000" stroke-width="0.35" stroke-linejoin="round">stage</text><text transform="translate(477.49,525.36) scale(0.9930,1)" font-family="Liberation Serif" font-weight="bold" font-size="15.444" fill="#000" stroke="#000" stroke-width="0.35" stroke-linejoin="round">investment process</text><text transform="translate(588.80,250.73) scale(1.0810,1)" font-family="Liberation Sans" font-weight="bold" font-size="9.362" fill="#1a1a1a" stroke="#1a1a1a" stroke-width="0.35" stroke-linejoin="round">cooperation-female</text><text transform="translate(588.80,267.53) scale(1.0811,1)" font-family="Liberation Sans" font-weight="bold" font-size="9.362" fill="#1a1a1a" stroke="#1a1a1a" stroke-width="0.35" stroke-linejoin="round">competition-female</text><text transform="translate(588.79,284.33) scale(1.0915,1)" font-family="Liberation Sans" font-weight="bold" font-size="9.362" fill="#1a1a1a" stroke="#1a1a1a" stroke-width="0.35" stroke-linejoin="round">cooperation-male</text><text transform="translate(588.79,301.33) scale(1.0877,1)" font-family="Liberation Sans" font-weight="bold" font-size="9.362" fill="#1a1a1a" stroke="#1a1a1a" stroke-width="0.35" stroke-linejoin="round">competition-male</text><text transform="translate(499.73,91.75) scale(1.0777,1)" font-family="Liberation Serif" font-weight="bold" font-size="12.500" fill="#111">CH16</text><text transform="translate(519.35,125.26) scale(0.9628,1)" font-family="Liberation Serif" font-weight="bold" font-size="13.582" fill="#111">CH11</text></svg></body></html>
